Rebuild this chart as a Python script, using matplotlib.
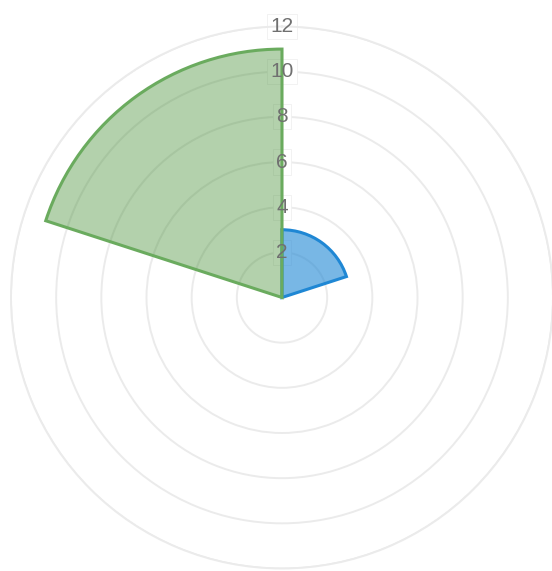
import numpy as np
from matplotlib import pyplot as plt

plt.rcParams['font.family'] = ['Liberation Sans', 'DejaVu Sans']

categories = ['A', 'B', 'C', 'D', 'E']
values = [3, 0, 0, 0, 11]
ring_ticks = [2, 4, 6, 8, 10, 12]

FILL = [(31/255, 135/255, 212/255, 0.6), None, None, None, (65/255, 140/255, 48/255, 0.4)]
EDGE = ['#1f87d4', None, None, None, '#6aab5e']


def plot_polar_area():
    fig = plt.figure(figsize=(5.52, 5.71), dpi=100)
    r_px = 271
    cx, cy = 282, 571 - 297.5
    ax = fig.add_axes([(cx - r_px) / 552, (cy - r_px) / 571, 2 * r_px / 552, 2 * r_px / 571],
                      projection='polar')
    ax.set_theta_zero_location('N')
    ax.set_theta_direction(-1)
    ax.set_ylim(0, 12)
    ax.set_rgrids(ring_ticks, labels=[''] * len(ring_ticks))
    ax.set_xticks([])
    ax.yaxis.grid(True, color='#ebebeb', linewidth=1.4)
    ax.spines['polar'].set_color('#ebebeb')
    ax.spines['polar'].set_linewidth(1.4)
    ax.set_axisbelow(True)

    n = len(categories)
    width = 2 * np.pi / n
    theta = np.arange(n) * width
    for i, v in enumerate(values):
        if v <= 0:
            continue
        ax.bar(theta[i], v, width=width, align='edge', color=FILL[i],
               edgecolor=EDGE[i], linewidth=2.2, zorder=3)

    # backdrops sit under the wedges, numbers on top
    for t in ring_ticks:
        ax.text(0, t, str(t), ha='center', va='center', fontsize=15, color='none',
                zorder=2, bbox=dict(boxstyle='square,pad=0.15', facecolor='white',
                                    edgecolor='#f0f0f0', linewidth=0.6))
        ax.text(0, t, str(t), ha='center', va='center', fontsize=15, color='#707070', zorder=5)

    plt.savefig('out.png', dpi=100)
    plt.close()


if __name__ == '__main__':
    plot_polar_area()
